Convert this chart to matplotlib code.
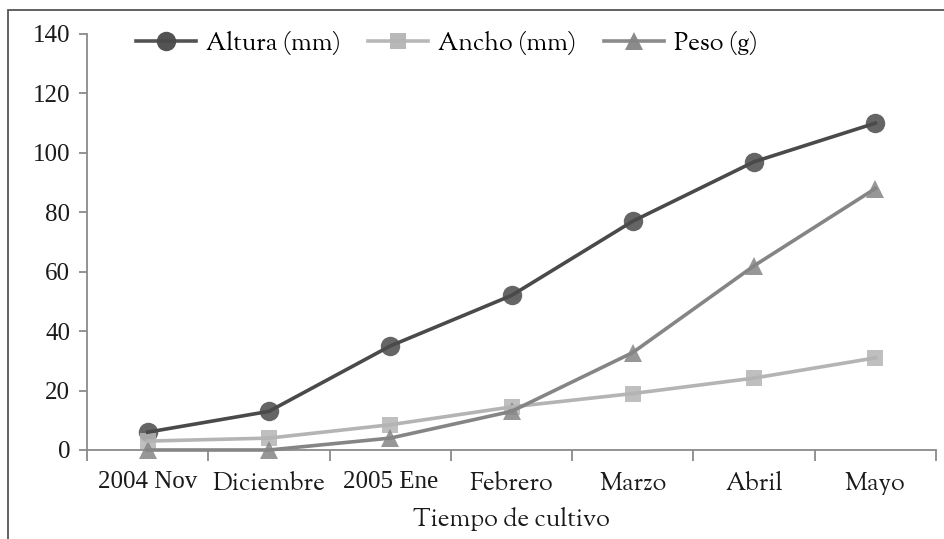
import matplotlib.pyplot as plt
import matplotlib.patches as patches
from matplotlib.lines import Line2D
import numpy as np

# Goudy for words, a serif with lining figures for numbers
FAM_TXT = ['Sorts Mill Goudy', 'Liberation Serif', 'DejaVu Serif']
FAM_NUM = ['Liberation Serif', 'DejaVu Serif']

meses = ['2004 Nov', 'Diciembre', '2005 Ene', 'Febrero', 'Marzo', 'Abril', 'Mayo']
altura = [6, 13, 35, 52, 77, 97, 110]
ancho = [3, 4, 8.5, 14.5, 19, 24.2, 31]
peso = [0, 0, 4, 13, 32.8, 62, 88]

series = [
    ('Altura (mm)', altura, '#4a4a4a', 'o', 14),
    ('Ancho (mm)', ancho, '#b4b4b4', 's', 11),
    ('Peso (g)', peso, '#858585', '^', 13),
]

fig = plt.figure(figsize=(9.44, 5.39), dpi=100)
ax = fig.add_axes([87/944, 1 - 450/539, (936 - 87)/944, (450 - 34)/539])

x = np.arange(len(meses))
handles = []
for nombre, vals, col, mk, ms in series:
    # markers slightly transparent, line drawn on top
    ax.plot(x, vals, linestyle='none', marker=mk, markersize=ms,
            color=col, alpha=0.85, markeredgewidth=0, zorder=3, clip_on=False)
    ax.plot(x, vals, color=col, lw=2.6, zorder=4, clip_on=False)
    handles.append(Line2D([], [], color=col, lw=2.6, marker=mk, markersize=ms,
                          markeredgewidth=0, alpha=0.95, label=nombre))

ax.set_xlim(-0.5, len(meses) - 0.5)
ax.set_ylim(0, 140)
ax.set_yticks(range(0, 141, 20))
ax.set_xticks(x)
ax.set_xticklabels(meses)
ax.set_xticks(np.arange(-0.5, len(meses), 1), minor=True)

for s in ['top', 'right']:
    ax.spines[s].set_visible(False)
for s in ['left', 'bottom']:
    ax.spines[s].set_color('#8a8a8a')
    ax.spines[s].set_linewidth(1.3)

fs = 18
ax.tick_params(axis='y', direction='out', length=6, width=1.3, color='#8a8a8a',
               labelsize=fs, pad=6, labelcolor='#1a1a1a')
ax.tick_params(axis='x', which='major', length=0, labelsize=fs, pad=15,
               labelcolor='#1a1a1a')
ax.tick_params(axis='x', which='minor', direction='out', length=8, width=1.3,
               color='#8a8a8a')
for lbl in ax.get_yticklabels():
    lbl.set_family(FAM_NUM)
for lbl in ax.get_xticklabels():
    if any(c.isdigit() for c in lbl.get_text()):
        lbl.set_family(FAM_NUM)
    else:
        lbl.set_family(FAM_TXT)

ax.set_xlabel('Tiempo de cultivo', fontsize=fs, labelpad=9, color='#1a1a1a',
              family=FAM_TXT)

ax.legend(handles=handles, ncol=3, loc='center left', frameon=False,
          bbox_to_anchor=(39/849, 1 - 9/416), prop={'family': FAM_TXT, 'size': fs},
          handlelength=2.4, handletextpad=0.4, columnspacing=1.1,
          borderaxespad=0)

rect = patches.Rectangle((8/944, -0.1), 1.2, 1 - 10/539 + 0.1,
                         transform=fig.transFigure, fill=False,
                         edgecolor='#555555', lw=1.3, clip_on=False)
fig.patches.append(rect)

plt.savefig('out.png', dpi=100)
plt.close()
